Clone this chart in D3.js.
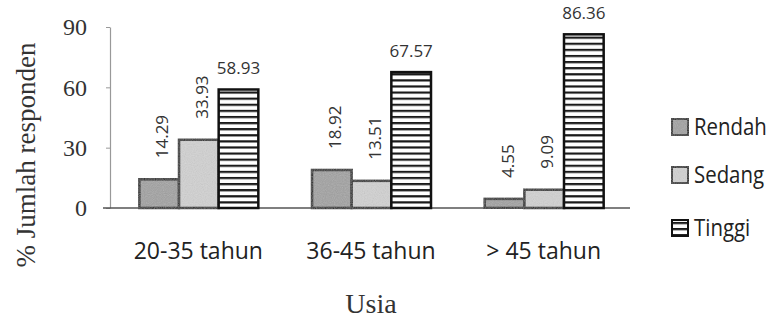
<!DOCTYPE html>
<html>
<head>
<meta charset="utf-8">
<script src="https://cdn.jsdelivr.net/npm/d3@7"></script>
<style>
  body { margin: 0; background: #fff; }
</style>
</head>
<body>
<div id="chart"></div>
<script>
const categories = ["20-35 tahun", "36-45 tahun", "> 45 tahun"]
const series = ["Rendah", "Sedang", "Tinggi"]
const rendah = [14.29, 18.92, 4.55]
const sedang = [33.93, 13.51, 9.09]
const tinggi = [58.93, 67.57, 86.36]
const yTicks = [0, 30, 60, 90]

const values = [rendah, sedang, tinggi]
const data = []
categories.forEach((c, i) => {
    series.forEach((s, j) => data.push({cat: c, series: s, value: values[j][i]}))
})

const width = 779
const height = 320
const svg = d3.select("#chart")
    .append("svg")
    .attr("width", width)
    .attr("height", height)

const defs = svg.append("defs")
// stippled grays
const noise = defs.append("filter").attr("id", "grain")
noise.append("feTurbulence").attr("type", "fractalNoise").attr("baseFrequency", 0.9).attr("numOctaves", 1).attr("result", "n")
noise.append("feColorMatrix").attr("in", "n").attr("type", "saturate").attr("values", 0).attr("result", "g")
noise.append("feComponentTransfer").attr("in", "g").attr("result", "a")
    .append("feFuncA").attr("type", "table").attr("tableValues", "0 0.35")
noise.append("feComposite").attr("in", "a").attr("in2", "SourceGraphic").attr("operator", "atop")

const stripes = defs.append("pattern")
    .attr("id", "stripes")
    .attr("patternUnits", "userSpaceOnUse")
    .attr("width", 8)
    .attr("height", 6.1)
stripes.append("rect").attr("width", 8).attr("height", 6.1).attr("fill", "#fff")
stripes.append("rect").attr("y", 0).attr("width", 8).attr("height", 2.2).attr("fill", "#1a1a1a")

const fills = {Rendah: "#a0a0a0", Sedang: "#d2d2d2", Tinggi: "url(#stripes)"}

const x0 = d3.scaleBand().domain(categories).range([112, 630]).paddingInner(0).paddingOuter(0)
const x1 = d3.scaleBand().domain(series).range([x0.bandwidth() / 2 - 59, x0.bandwidth() / 2 + 60])
const y = d3.scaleLinear().domain([0, 90]).range([208, 27])

// y axis (light gray line with small ticks)
const yAxis = svg.append("g")
    .attr("transform", "translate(110,0)")
    .call(d3.axisLeft(y).tickValues(yTicks).tickSize(4).tickSizeOuter(0))
yAxis.select(".domain").attr("stroke", "#999").attr("stroke-width", 1.2)
yAxis.selectAll(".tick line").attr("stroke", "#999")
yAxis.selectAll(".tick text")
    .attr("x", -23)
    .style("font-family", "'Liberation Serif', 'DejaVu Serif', serif")
    .style("font-size", "24px")
    .attr("fill", "#333")

// baseline
svg.append("line")
    .attr("x1", 103).attr("x2", 630)
    .attr("y1", y(0)).attr("y2", y(0))
    .attr("stroke", "#555").attr("stroke-width", 1.5)

const bars = svg.append("g")
bars.selectAll("rect")
    .data(data)
    .join("rect")
    .attr("x", d => x0(d.cat) + x1(d.series))
    .attr("y", d => y(d.value))
    .attr("width", x1.bandwidth())
    .attr("height", d => y(0) - y(d.value))
    .attr("fill", d => fills[d.series])
    .attr("filter", d => d.series == "Tinggi" ? null : "url(#grain)")
    .attr("stroke", "#111")
    .attr("stroke-width", 2.5)

// value labels
const labelFont = "'Open Sans', 'Liberation Sans', sans-serif"
svg.append("g").selectAll("text")
    .data(data)
    .join("text")
    .attr("transform", d => {
        const cx = x0(d.cat) + x1(d.series) + x1.bandwidth() / 2
        if (d.series == "Tinggi") return `translate(${cx},${y(d.value) - 15})`
        return `translate(${cx + 9},${y(d.value) - 21}) rotate(-90)`
    })
    .attr("text-anchor", d => d.series == "Tinggi" ? "middle" : "start")
    .style("font-family", labelFont)
    .style("font-size", "17px")
    .attr("fill", "#333")
    .text(d => d.value.toFixed(2))

// category labels
svg.append("g").selectAll("text")
    .data(categories)
    .join("text")
    .attr("x", d => x0(d) + x0.bandwidth() / 2)
    .attr("y", 259)
    .attr("text-anchor", "middle")
    .style("font-family", labelFont)
    .style("font-size", "23px")
    .attr("fill", "#222")
    .text(d => d)

// axis titles
svg.append("text")
    .attr("x", 371).attr("y", 313)
    .attr("text-anchor", "middle")
    .style("font-family", "'Liberation Serif', serif")
    .style("font-size", "28px")
    .attr("fill", "#333")
    .text("Usia")

svg.append("text")
    .attr("transform", "translate(35,155) rotate(-90)")
    .attr("text-anchor", "middle")
    .style("font-family", "'Liberation Serif', serif")
    .style("font-size", "27px")
    .attr("fill", "#333")
    .text("% Jumlah responden")

// legend
const legend = svg.append("g").selectAll("g")
    .data(series)
    .join("g")
    .attr("transform", (d, i) => `translate(672,${[127, 175, 228][i]})`)
legend.append("rect")
    .attr("x", 0).attr("y", -8)
    .attr("width", 16).attr("height", 16)
    .attr("fill", d => fills[d])
    .attr("filter", d => d == "Tinggi" ? null : "url(#grain)")
    .attr("stroke", "#111").attr("stroke-width", 2)
legend.append("text")
    .attr("transform", "translate(22,0) scale(0.85,1)")
    .attr("dy", "0.35em")
    .style("font-family", labelFont)
    .style("font-size", "24px")
    .attr("fill", "#222")
    .text(d => d)
</script>
</body>
</html>
